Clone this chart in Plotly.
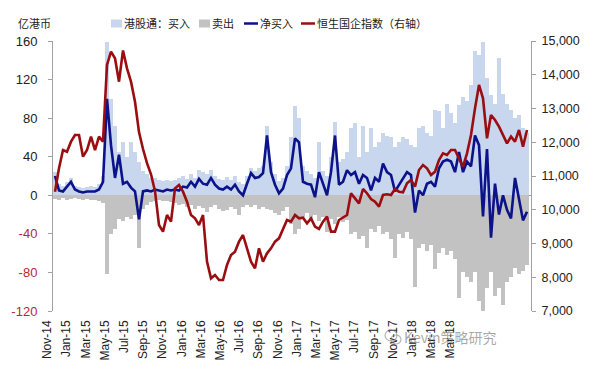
import plotly.graph_objects as go

# ---------------- data (亿港币 / index points), sampled along the time axis ----------------
buy = [24, 12, 10, 14, 18, 10, 9, 8, 9, 10, 9, 12, 20,
       159, 100, 72, 45, 55, 40, 55, 45, 35, 25, 22, 18, 18, 16, 15, 16,
       15, 16, 18, 20, 17, 22, 18, 26, 24, 22, 26, 20, 17, 16, 19, 16, 20, 14, 12, 20,
       28, 25, 28, 30, 72, 35, 22, 15, 18, 30,
       60, 93, 80, 30, 25, 22, 18, 55, 25, 20, 40, 76, 35, 38, 45, 70, 75, 40, 72, 45,
       70, 50, 55, 65, 62, 60, 50, 55, 60, 58,
       52, 50, 70, 72, 65, 62, 88, 87, 70, 95, 85, 75, 94, 102, 98, 114, 150, 146, 159, 122,
       104, 95, 142, 105, 95, 88, 80, 83, 70, 65]

sell = [-4, -5, -3, -5, -4, -3, -4, -5, -4, -5, -5, -6, -8,
        -82, -40, -35, -25, -27, -22, -25, -20, -55, -14, -10, -7, -6, -5, -6, -6,
        -7, -8, -10, -9, -12, -10, -14, -11, -13, -17, -12, -10, -14, -16, -15, -12, -14, -20, -12, -10,
        -12, -10, -14, -12, -14, -15, -18, -20, -16, -12,
        -30, -40, -35, -22, -18, -25, -20, -27, -22, -38, -25, -30, -22, -28, -26, -40, -38, -45, -42, -55,
        -35, -38, -32, -40, -38, -45, -65, -40, -44, -38,
        -45, -95, -55, -50, -58, -52, -76, -60, -55, -62, -58, -66, -107, -80, -85, -90, -80, -110, -120, -96,
        -80, -104, -96, -114, -90, -85, -75, -82, -78, -72]

net = [20, 5, 4, 9, 14, 6, 4, 3, 4, 4, 4, 6, 14,
       100, 52, 18, 42, 12, 14, 8, 4, -25, 4, 5, 4, 6, 5, 4, 6,
       5, 6, 5, 9, 8, 14, 9, 17, 12, 11, 18, 11, 7, 6, 9, 6, 11, 4, 0, 12,
       23, 18, 19, 23, 62, 24, 11, 2, 7, 21,
       28, 59, 55, 14, 12, 11, -2, 24, 12, 0, 24, 62, 11, 14, 26, 21, 24, 12, 21, 18,
       5, 18, 14, 33, 24, 21, 4, 11, 18, 24,
       21, -18, 5, 0, 12, 14, 9, 28, 35, 37, 35, 24, 45, 24, 35, 30, 62, 52, -22, 48,
       -44, 12, -20, 0, -15, -24, 18, -3, -26, -17]

hscei = [10536, 11227, 11770, 11721, 12017, 12215, 12215, 11573, 11770, 12166, 11770, 12166, 12017,
         14290, 14684, 14487, 13795, 14720, 14190, 13795, 13200, 12300, 11800, 11380, 11050, 10550, 9548, 9351, 9844,
         9650, 10635, 10733, 10536, 10240, 9844, 9746, 9548, 9844, 8462, 7968, 8067, 7918, 7918, 8363, 8659,
         8758, 9054, 9252, 8857, 8462, 8264, 8857, 8462, 8709, 8857, 9054, 9153, 9449, 9696,
         9647, 9844, 9746, 9765, 9598, 9746, 9499, 9430, 9647, 9795, 9351, 9351, 9696, 9765, 9844,
         10486, 10338, 10190, 10615, 10486, 10319, 10240, 10092, 10437, 10457, 10437, 10615, 10536, 10516, 10783,
         10882, 10684, 11178, 11326, 11227, 11030, 11129, 11474, 11672, 11622, 11770, 11770, 11524, 11277, 11672,
         12215, 13005, 13697, 13301, 12116, 12807, 12659, 12462, 12215, 11968, 12166, 12017, 12363, 11869, 12363]

tick_labels = ["Nov-14", "Jan-15", "Mar-15", "May-15", "Jul-15", "Sep-15", "Nov-15", "Jan-16",
               "Mar-16", "May-16", "Jul-16", "Sep-16", "Nov-16", "Jan-17", "Mar-17", "May-17",
               "Jul-17", "Sep-17", "Nov-17", "Jan-18", "Mar-18", "Mar-18"]

left_ticks = [-120, -80, -40, 0, 40, 80, 120, 160]

# ---------------- styling ----------------
C_BUY = "#C8D6EE"
C_SELL = "#C2C2C2"
C_NET = "#0B128A"
C_IDX = "#9A0E12"
C_NEG = "#B3283A"
FONT = "Liberation Sans, Arial, sans-serif"
CJK = "Noto Sans CJK SC, sans-serif"

n = len(buy)
idx = list(range(n))
tick_step = 4.8
tick_pos = [-0.4 + tick_step * k for k in range(len(tick_labels))]

fig = go.Figure()
fig.add_bar(x=idx, y=buy, name="港股通：买入", marker=dict(color=C_BUY, line=dict(width=0)),
            showlegend=False)
fig.add_bar(x=idx, y=sell, name="卖出", marker=dict(color=C_SELL, line=dict(width=0)),
            showlegend=False)
fig.add_scatter(x=idx, y=net, name="净买入", mode="lines",
                line=dict(color=C_NET, width=2.6), showlegend=False)
fig.add_scatter(x=idx, y=hscei, name="恒生国企指数（右轴）", mode="lines", yaxis="y2",
                line=dict(color=C_IDX, width=2.6), showlegend=False)

left_text = [f'<span style="color:{C_NEG}">{v}</span>' if v < 0 else str(v) for v in left_ticks]

# page body has an 8px margin, so the figure is laid out 8px smaller and offset coordinates
OFF = 8
W, H = 602 - OFF, 377 - OFF
L, R, T, B = 53 - OFF, 531 - OFF, 41 - OFF, 311 - OFF

fig.update_layout(
    width=W, height=H,
    margin=dict(l=L, r=W - R, t=T, b=H - B, autoexpand=False),
    paper_bgcolor="white", plot_bgcolor="white",
    barmode="relative", bargap=0,
    font=dict(family=FONT, size=12, color="#222"),
    xaxis=dict(range=[-0.5, n], tickmode="array", tickvals=tick_pos, ticktext=tick_labels,
               tickangle=-90, showgrid=False, zeroline=False, showline=False, ticks="",
               tickfont=dict(size=12, color="#222"), ticklabelshift=-6, ticklabelstandoff=6),
    yaxis=dict(range=[-120, 160], tickmode="array", tickvals=left_ticks, ticktext=left_text,
               showgrid=False, zeroline=True, zerolinecolor="#9A9A9A", zerolinewidth=1,
               showline=True, linecolor="#A0A0A0", linewidth=1, ticks="outside", ticklen=4,
               tickcolor="#A0A0A0", tickfont=dict(size=13, color="#222"), ticklabelstandoff=8),
    yaxis2=dict(range=[7000, 15000], dtick=1000, tickformat=",", overlaying="y", side="right",
                showgrid=False, zeroline=False, showline=True, linecolor="#A0A0A0", linewidth=1,
                ticks="outside", ticklen=4, tickcolor="#A0A0A0",
                tickfont=dict(size=12.5, color="#222"), ticklabelstandoff=3),
)


def px_x(p):
    # p is a page pixel x
    return (p - OFF - L) / (R - L)


def px_y(p):
    return (B - (p - OFF)) / (B - T)


shapes = []
annotations = []
ly = 23.5
shapes.append(dict(type="rect", xref="paper", yref="paper", x0=px_x(111), x1=px_x(122),
                   y0=px_y(27.5), y1=px_y(19.5), fillcolor=C_BUY, line=dict(width=0)))
shapes.append(dict(type="rect", xref="paper", yref="paper", x0=px_x(199), x1=px_x(210),
                   y0=px_y(27.5), y1=px_y(19.5), fillcolor=C_SELL, line=dict(width=0)))
shapes.append(dict(type="line", xref="paper", yref="paper", x0=px_x(244), x1=px_x(258),
                   y0=px_y(ly), y1=px_y(ly), line=dict(color=C_NET, width=2.5)))
shapes.append(dict(type="line", xref="paper", yref="paper", x0=px_x(301), x1=px_x(315),
                   y0=px_y(ly), y1=px_y(ly), line=dict(color=C_IDX, width=2.5)))
for txt, xp in [("港股通：买入", 122), ("卖出", 210), ("净买入", 258), ("恒生国企指数（右轴）", 315)]:
    annotations.append(dict(text=txt, xref="paper", yref="paper", x=px_x(xp), y=px_y(ly),
                            xanchor="left", yanchor="middle", showarrow=False,
                            font=dict(family=CJK, size=11, color="#222")))
annotations.append(dict(text="亿港币", xref="paper", yref="paper", x=px_x(16), y=px_y(ly),
                        xanchor="left", yanchor="middle", showarrow=False,
                        font=dict(family=CJK, size=11, color="#222")))
# watermark
shapes.append(dict(type="circle", xref="paper", yref="paper", x0=px_x(385), x1=px_x(397),
                   y0=px_y(341), y1=px_y(330), line=dict(color="rgba(120,120,120,0.55)", width=1.2)))
shapes.append(dict(type="circle", xref="paper", yref="paper", x0=px_x(391), x1=px_x(401),
                   y0=px_y(344), y1=px_y(335), line=dict(color="rgba(120,120,120,0.55)", width=1.2)))
annotations.append(dict(text="Kevin策略研究", xref="paper", yref="paper", x=px_x(402), y=px_y(337),
                        xanchor="left", yanchor="middle", showarrow=False,
                        font=dict(family=CJK, size=14, color="rgba(110,110,110,0.6)")))

fig.update_layout(shapes=shapes, annotations=annotations)
fig.write_html("out.html")
